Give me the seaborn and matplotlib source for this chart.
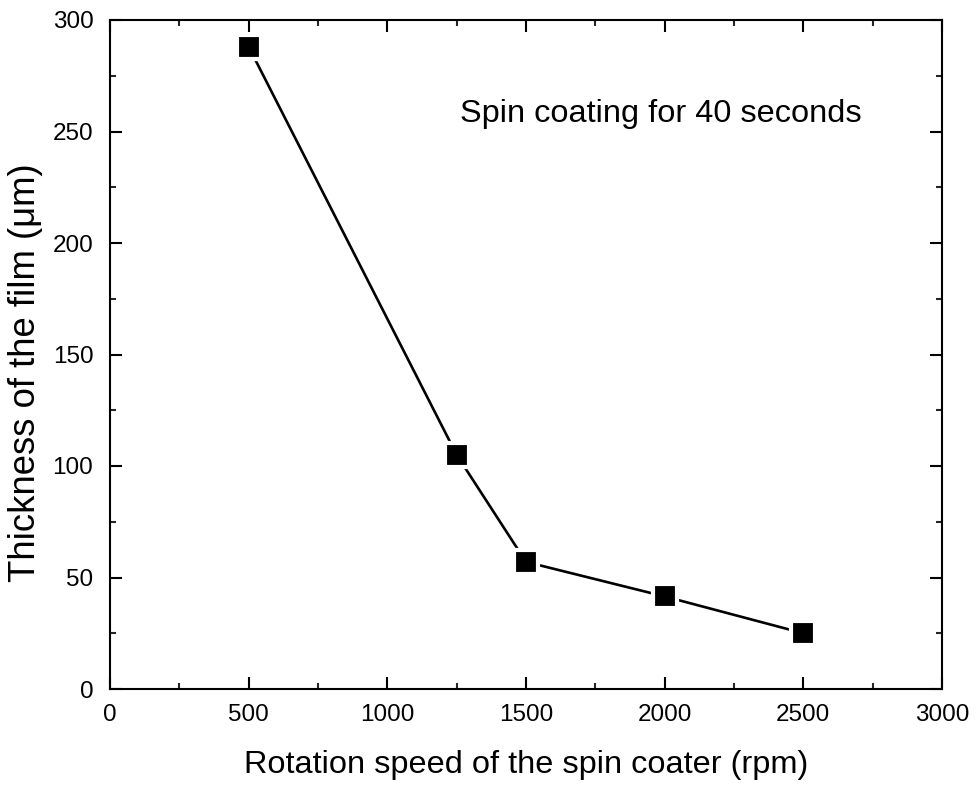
import matplotlib
matplotlib.use("Agg")
import matplotlib.pyplot as plt
import seaborn as sns
import pandas as pd
from matplotlib.ticker import MultipleLocator

speed = [500, 1250, 1500, 2000, 2500]
thickness = [288, 105, 57, 41.5, 25]
x_ticks = [0, 500, 1000, 1500, 2000, 2500, 3000]
y_ticks = [0, 50, 100, 150, 200, 250, 300]

sns.set_style("ticks")
plt.rcParams['font.family'] = ['Liberation Sans', 'DejaVu Sans']
plt.rcParams['text.color'] = 'black'
plt.rcParams['axes.labelcolor'] = 'black'

df = pd.DataFrame({"speed": speed, "thickness": thickness})

fig = plt.figure(figsize=(9.77, 7.87), dpi=100)
ax = fig.add_axes([110/977, 1-689/787, 832/977, 669/787])

sns.lineplot(data=df, x="speed", y="thickness", ax=ax, color="black",
             linewidth=1.9, marker="s", markersize=17.5, markeredgecolor="white",
             markeredgewidth=3.0, markerfacecolor="black")

ax.set_xlim(0, 3000)
ax.set_ylim(0, 300)
ax.set_xticks(x_ticks)
ax.set_yticks(y_ticks)
ax.xaxis.set_minor_locator(MultipleLocator(250))
ax.yaxis.set_minor_locator(MultipleLocator(25))
ax.tick_params(which="major", direction="in", length=8.5, width=1.5, labelsize=17.5,
               top=True, right=True, colors="black")
ax.tick_params(axis="x", which="major", pad=11)
ax.tick_params(axis="y", which="major", pad=12)
ax.tick_params(which="minor", direction="in", length=4.5, width=1.5,
               top=True, right=True)
for s in ax.spines.values():
    s.set_linewidth(1.5)
    s.set_color("black")

ax.set_xlabel("Rotation speed of the spin coater (rpm)", fontsize=23.4)
ax.xaxis.set_label_coords(0.5, -(773 - 689) / 669)
ax.xaxis.label.set_va("baseline")
ax.set_ylabel("Thickness of the film (\u03bcm)", fontsize=26.3)
ax.yaxis.label.set_rotation_mode("anchor")
ax.yaxis.set_label_coords(-(110 - 35) / 832, (689 - 373) / 669)
ax.yaxis.label.set_va("baseline")
ax.yaxis.label.set_ha("center")
ax.text(1262, 258, "Spin coating for 40 seconds", fontsize=23.4, va="center", ha="left")

fig.savefig("out.png", dpi=100)
